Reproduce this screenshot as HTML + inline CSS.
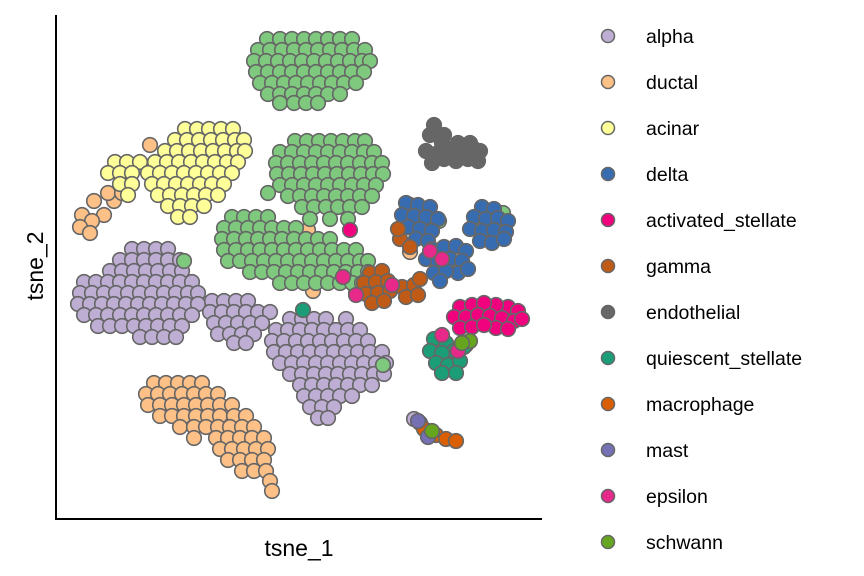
<!DOCTYPE html>
<html><head><meta charset="utf-8"><style>
html,body{margin:0;padding:0;background:#fff;}
svg{display:block;font-family:"Liberation Sans",sans-serif;}
</style></head><body>
<svg id="chart" width="864" height="576" viewBox="0 0 864 576">
<g id="points"></g>
<line x1="56" y1="15" x2="56" y2="519" stroke="#000" stroke-width="2"/>
<line x1="55" y1="519" x2="542" y2="519" stroke="#000" stroke-width="2"/>
<text x="299" y="556" font-size="23" text-anchor="middle">tsne_1</text>
<text x="43" y="266" font-size="23" text-anchor="middle" transform="rotate(-90 43 266)">tsne_2</text>
<g id="legend"></g>
</svg>
<script>
// row format: [tsne_2, [tsne_1 values...]]
const betaRows = [
[22.6,[-3.3,-2.0,-0.8,0.4,1.6,2.8,4.0,5.2]],
[21.5,[-4.2,-3.0,-1.8,-0.6,0.6,1.8,3.0,4.2,5.4,6.5]],
[20.4,[-4.6,-3.4,-2.2,-1.0,0.2,1.4,2.6,3.8,5.0,6.2,7.0]],
[19.3,[-4.4,-3.2,-2.0,-0.8,0.4,1.6,2.8,4.0,5.2,6.4]],
[18.2,[-4.0,-2.8,-1.6,-0.4,0.8,2.0,3.2,4.4,5.6]],
[17.1,[-3.2,-2.0,-0.8,0.4,1.6,2.8,4.0]],
[16.2,[-2.0,-0.6,0.6,1.8]],
[12.4,[-0.5,0.7,1.9,3.1,4.3,5.5,6.5]],
[11.3,[-2.0,-0.8,0.4,1.6,2.8,4.0,5.2,6.4,7.4]],
[10.2,[-2.4,-1.2,0,1.2,2.4,3.6,4.8,6.0,7.2,8.2]],
[9.1,[-2.3,-1.1,0.1,1.3,2.5,3.7,4.9,6.1,7.3,8.3]],
[8.0,[-2.0,-0.8,0.4,1.6,2.8,4.0,5.2,6.4,7.6]],
[6.9,[-1.2,0,1.2,2.4,3.6,4.8,6.0,7.2]],
[5.8,[0.2,1.4,2.6,3.8,5.0,6.2]],
[4.6,[1.0,3.0,4.8]],
[4.8,[-6.8,-5.6,-4.4,-3.2]],
[3.7,[-7.6,-6.4,-5.2,-4.0,-2.8,-1.6,-0.4]],
[2.6,[-7.8,-6.6,-5.4,-4.2,-3.0,-1.8,-0.6,0.6,1.8,3.0]],
[1.5,[-7.6,-6.4,-5.2,-4.0,-2.8,-1.6,-0.4,0.8,2.0,3.2,4.4,5.6]],
[0.4,[-7.2,-6.0,-4.8,-3.6,-2.4,-1.2,0,1.2,2.4,3.6,4.8,6.0,6.8]],
[-0.7,[-5.0,-3.8,-2.6,-1.4,-0.2,1.0,2.2,3.4,4.6,5.8,6.8]],
[-1.8,[-2.0,-0.8,0.4,1.6,2.8,4.0,5.2,6.2]],
[7.2,[-3.2]],[0.4,[-11.6]],[5.2,[20.3]],[6.0,[11.0]],[4.4,[13.9]],[-10.0,[8.3]],[-8.0,[16.6]]
];
const acinarRows = [
[13.6,[-11.5,-10.3,-9.1,-7.9,-6.7]],
[12.5,[-12.5,-11.3,-10.1,-8.9,-7.7,-6.5,-5.6]],
[11.4,[-13.5,-12.3,-11.1,-9.9,-8.7,-7.5,-6.3,-5.5]],
[10.3,[-18.5,-17.3,-16.0,-14.5,-13.3,-12.1,-10.9,-9.7,-8.5,-7.3,-6.2]],
[9.2,[-19.2,-18.0,-16.8,-15.2,-14.0,-12.8,-11.6,-10.4,-9.2,-8.0,-6.8]],
[8.1,[-18.0,-16.8,-14.8,-13.6,-12.4,-11.2,-10.0,-8.8,-7.6]],
[7.0,[-17.2,-14.2,-13.0,-11.8,-10.6,-9.4,-8.2]],
[5.9,[-13.2,-12.0,-10.8,-9.6]],
[4.8,[-12.2,-11.0]]
];
const ductalRows = [
[5.0,[-21.8,-19.6]],[4.4,[-20.8]],[6.4,[-20.6,-18.6]],[3.8,[-22.0]],[7.2,[-19.2,-17.8]],[12.0,[-15.0]],[3.2,[-21.0]],
[-11.8,[-14.6,-13.4,-12.2,-11.0,-9.8]],
[-12.9,[-15.4,-14.2,-13.0,-11.8,-10.6,-9.4,-8.2]],
[-14.0,[-15.2,-14.0,-12.8,-11.6,-10.4,-9.2,-8.0,-6.8]],
[-15.1,[-14.0,-12.8,-11.6,-10.4,-9.2,-8.0,-6.6,-5.4]],
[-16.2,[-12.0,-10.6,-9.4,-8.2,-7.0,-5.8,-4.6]],
[-17.3,[-10.6,-8.4,-7.2,-6.0,-4.8,-3.6]],
[-18.4,[-8.0,-6.8,-5.6,-4.4,-3.2]],
[-19.5,[-7.2,-6.0,-4.8,-3.6]],
[-20.6,[-5.8,-4.6,-3.4]],
[-21.6,[-3.0]],[-22.6,[-2.8]],[-2.6,[1.3]],[3.5,[0.8]],[1.3,[11.0]]
];
const alphaRows = [
[1.6,[-16.8,-15.6,-14.4,-13.2]],
[0.5,[-18.0,-16.8,-15.6,-14.4,-13.2,-12.0]],
[-0.6,[-19.0,-17.8,-16.6,-15.4,-14.2,-13.0,-11.8]],
[-1.7,[-21.6,-20.4,-19.2,-18.0,-16.8,-15.6,-14.4,-13.2,-12.0,-10.8]],
[-2.8,[-22.0,-20.8,-19.6,-18.4,-17.2,-16.0,-14.8,-13.6,-12.4,-11.2,-10.2]],
[-3.9,[-22.2,-21.0,-19.8,-18.6,-17.4,-16.2,-15.0,-13.8,-12.6,-11.4,-10.2]],
[-5.0,[-21.6,-20.4,-19.2,-18.0,-16.8,-15.6,-14.4,-13.2,-12.0,-10.8]],
[-6.1,[-20.2,-19.0,-17.8,-16.6,-15.4,-14.2,-13.0,-11.8]],
[-7.2,[-16.0,-14.8,-13.6,-12.4]],
[-3.6,[-8.8,-7.6,-6.4,-5.2]],
[-4.7,[-9.0,-7.8,-6.6,-5.4,-4.2,-3.0]],
[-5.8,[-8.6,-7.4,-6.2,-5.0,-3.8]],
[-6.9,[-8.2,-7.0,-5.8,-4.6]],
[-7.8,[-6.6,-5.4]],
[-5.4,[-1.0,0.2,1.4,2.6,4.6]],
[-6.5,[-2.4,-1.2,0,1.2,2.4,3.6,4.8,6.0]],
[-7.6,[-2.8,-1.6,-0.4,0.8,2.0,3.2,4.4,5.6,6.8]],
[-8.7,[-2.6,-1.4,-0.2,1.0,2.2,3.4,4.6,5.8,7.0,8.2]],
[-9.8,[-2.0,-0.8,0.4,1.6,2.8,4.0,5.2,6.4,7.6,8.6]],
[-10.9,[-1.0,0.2,1.4,2.6,3.8,5.0,6.2,7.4,8.4]],
[-12.0,[0.0,1.2,2.4,3.6,4.8,6.0,7.2]],
[-13.1,[0.4,1.6,2.8,4.0,5.2]],
[-14.2,[1.0,2.2,3.4]],
[-15.3,[1.8,2.8]],
[-2.8,[5.6]],[-15.4,[11.4]]
];
const endothelialRows = [
[14.0,[13.4]],[13.0,[13.0,14.4]],[12.2,[14.2,15.8,17.0]],[11.4,[12.6,16.2,18.0]],[11.2,[13.8]],[11.6,[15.0,17.4]],
[10.6,[14.4,16.8]],[10.4,[15.6,17.8]],[10.2,[13.2]]
];
const deltaRows = [
[6.2,[10.6]],[6.0,[11.8]],[5.8,[13.0]],[5.0,[10.2]],[4.9,[11.4]],[4.8,[12.6]],[4.6,[13.8]],
[3.8,[10.8]],[3.6,[12.0]],[3.4,[13.2]],[2.6,[11.6]],[2.4,[12.8]],
[1.6,[13.2]],[1.8,[14.4]],[1.9,[15.6]],[1.4,[16.6]],[0.6,[12.6,15.0]],[0.4,[13.8,16.2]],
[-0.8,[13.4,15.8]],[-0.6,[14.6]],[-0.4,[16.8]],[-1.6,[14.0]],
[5.8,[18.2]],[5.6,[19.4]],[4.8,[17.4]],[4.6,[18.6]],[4.7,[19.8]],[4.4,[20.8]],
[3.6,[17.0]],[3.4,[18.2]],[3.5,[19.4]],[3.3,[20.6]],[2.4,[18.0]],[2.2,[19.2]],[2.6,[20.4]]
];
const activatedRows = [
[-4.2,[16.0,20.8]],[-4.0,[17.2,19.6]],[-3.8,[18.4]],[-4.6,[21.8]],
[-5.2,[15.4,16.6]],[-5.0,[17.8]],[-5.1,[19.0]],[-5.3,[20.2]],[-5.6,[21.4]],[-5.4,[22.2]],
[-6.3,[16.0,19.6]],[-6.2,[17.2]],[-6.0,[18.4]],[-6.4,[20.8]],[3.5,[5.0]]
];
const gammaRows = [
[-0.8,[7.0]],[-0.6,[8.2]],[-1.8,[6.4]],[-1.7,[7.6]],[-1.6,[8.8]],[-2.9,[6.6]],[-2.8,[7.8]],[-2.6,[9.0]],
[-2.2,[10.2]],[-2.0,[11.4]],[-3.2,[10.6]],[-3.0,[11.8]],[-3.8,[7.2]],[-3.6,[8.4]],[-1.4,[12.0]],
[2.6,[10.0]],[3.6,[9.8]],[1.8,[11.0]]
];
const quiescentRows = [
[-7.4,[13.4]],[-7.8,[14.6]],[-8.6,[13.0,15.4]],[-8.8,[14.2]],[-9.8,[13.6]],[-10.0,[14.8]],
[-9.6,[16.0]],[-10.8,[14.2,15.6]],[-8.2,[16.4]],[-4.5,[0.3]]
];
const macrophageRows = [[-15.8,[12.0]],[-16.4,[12.4]],[-17.0,[13.6]],[-17.4,[14.6]],[-17.6,[15.6]]];
const mastRows = [[-17.2,[12.8]],[-15.6,[11.8]]];
const epsilonRows = [[-3.0,[5.6]],[-1.2,[4.3]],[1.4,[13.0]],[0.6,[14.2]],[-8.6,[15.8]],[-7.0,[14.2]],[-2.0,[9.2]]];
const schwannRows = [[-16.6,[13.2]],[-7.6,[17.0]],[-7.8,[16.2]]];

const legendLabels = ["alpha","ductal","acinar","delta","activated_stellate","gamma","endothelial","quiescent_stellate","macrophage","mast","epsilon","schwann"];
const legendColors = ["#BEAED4","#FDC086","#FFFF99","#386CB0","#F0027F","#BF5B17","#666666","#1B9E77","#D95F02","#7570B3","#E7298A","#66A61E"];

const xDomain = [-24.4, 24.2], yDomain = [-25.3, 25.0];
function xScale(v){ return 56 + (v - xDomain[0]) / (xDomain[1] - xDomain[0]) * 486; }
function yScale(v){ return 518 - (v - yDomain[0]) / (yDomain[1] - yDomain[0]) * 503; }

const NS = "http://www.w3.org/2000/svg";
const layer = document.getElementById("points");
function drawCluster(rows, color, name){
  const g = document.createElementNS(NS, "g");
  
  
  rows.forEach(function(r){
    r[1].forEach(function(x){
      const c = document.createElementNS(NS, "circle");
      c.setAttribute("cx", xScale(x).toFixed(1));
      c.setAttribute("cy", yScale(r[0]).toFixed(1));
      c.setAttribute("r", 7.3);
      c.setAttribute("fill", color);
      c.setAttribute("stroke", "#666");
      c.setAttribute("stroke-width", 1.6);
      
      
      g.appendChild(c);
    });
  });
  layer.appendChild(g);
}
drawCluster(alphaRows, "#BEAED4", "alpha");
drawCluster(ductalRows, "#FDC086", "ductal");
drawCluster(acinarRows, "#FFFF99", "acinar");
drawCluster(betaRows, "#7FC97F", "beta");
drawCluster(endothelialRows, "#666666", "endothelial");
drawCluster(deltaRows, "#386CB0", "delta");
drawCluster(gammaRows, "#BF5B17", "gamma");
drawCluster(activatedRows, "#F0027F", "activated-stellate");
drawCluster(quiescentRows, "#1B9E77", "quiescent-stellate");
drawCluster(macrophageRows, "#D95F02", "macrophage");
drawCluster(mastRows, "#7570B3", "mast");
drawCluster(epsilonRows, "#E7298A", "epsilon");
drawCluster(schwannRows, "#66A61E", "schwann");

const legend = document.getElementById("legend");
legendLabels.forEach(function(lab, i){
  const y = 36 + i * 46;
  const g = document.createElementNS(NS, "g");
  
  
  const c = document.createElementNS(NS, "circle");
  c.setAttribute("cx", 608); c.setAttribute("cy", y); c.setAttribute("r", 6.5);
  c.setAttribute("fill", legendColors[i]); c.setAttribute("stroke", "#666"); c.setAttribute("stroke-width", 1.5);
  
  
  const t = document.createElementNS(NS, "text");
  t.setAttribute("x", 646); t.setAttribute("y", y + 7); t.setAttribute("font-size", 19.5);
  t.textContent = lab;
  
  
  g.appendChild(c); g.appendChild(t); legend.appendChild(g);
});
</script>
</body></html>
